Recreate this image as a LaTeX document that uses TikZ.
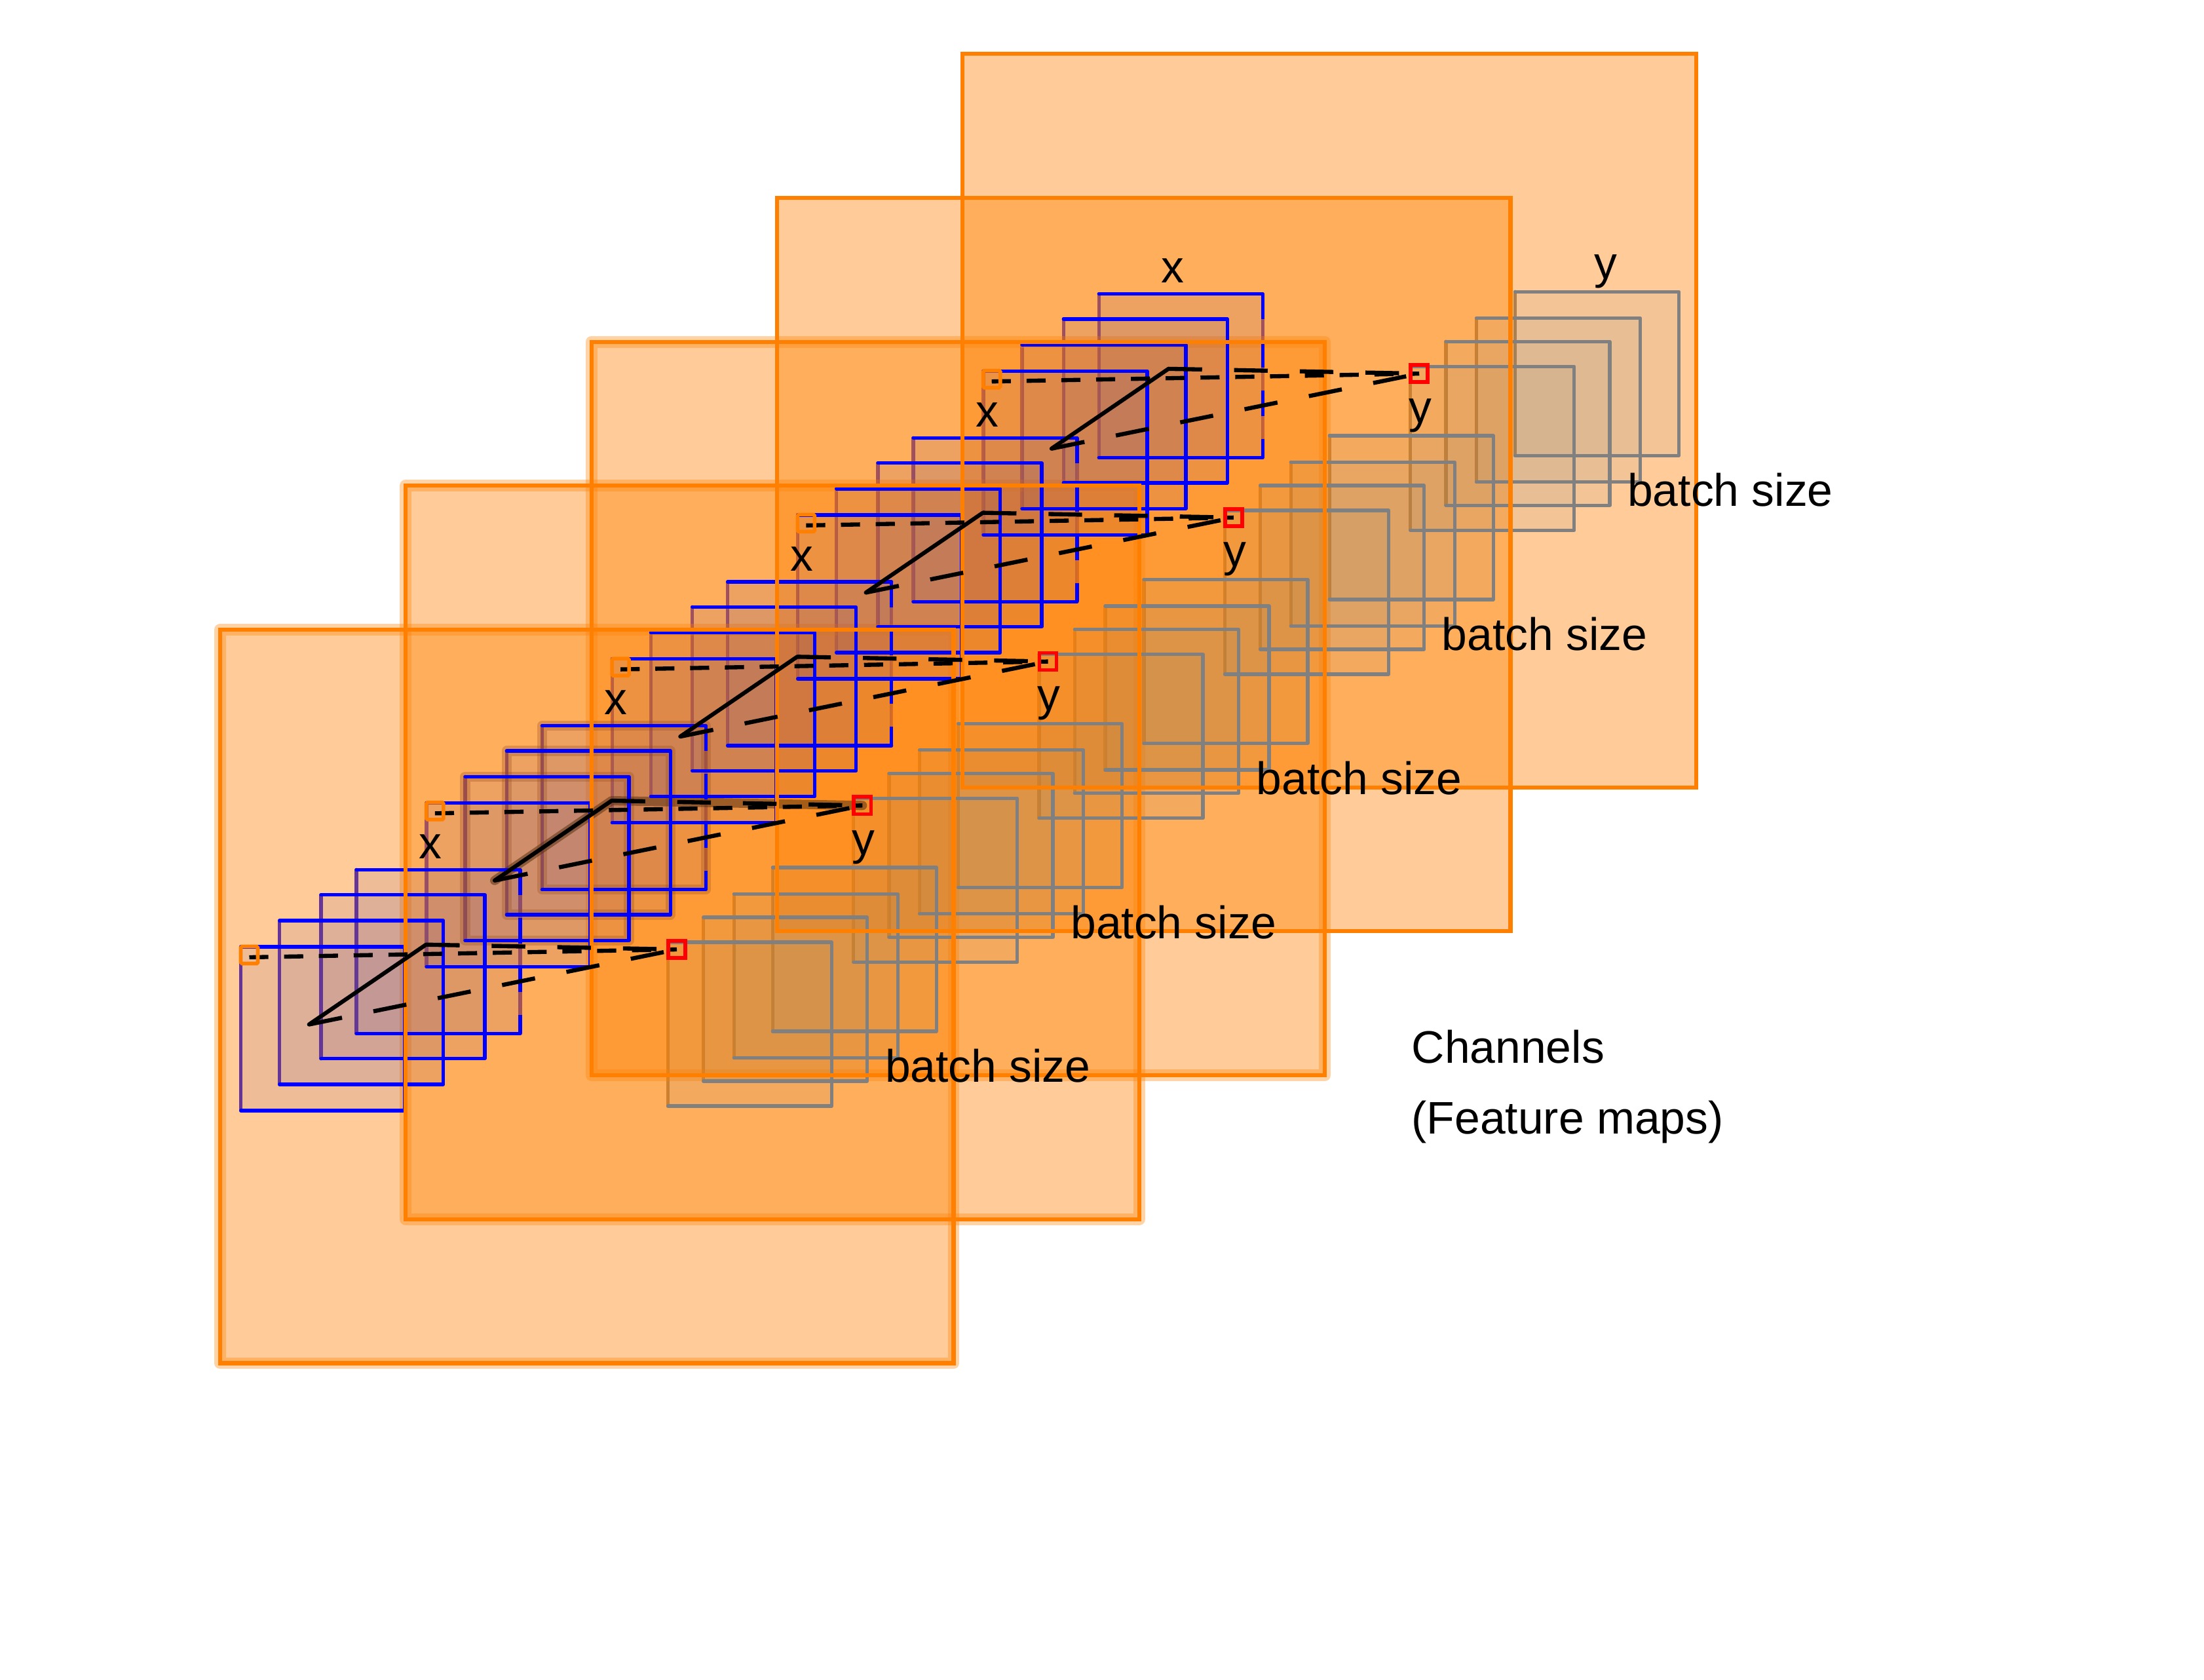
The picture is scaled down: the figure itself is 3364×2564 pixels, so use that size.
\documentclass[tikz,border=0pt]{standalone}
\usepackage{fontspec}
\setmainfont{Liberation Sans}
\definecolor{orng}{RGB}{255,128,0}
\definecolor{bl}{RGB}{0,0,255}
\definecolor{gr}{RGB}{128,128,128}
\definecolor{rd}{RGB}{255,0,0}
\definecolor{bfill}{RGB}{100,70,145}
\definecolor{halo}{RGB}{150,75,30}
\definecolor{halodark}{RGB}{90,50,20}
\tikzset{
  layershift/.style={shift={(336+283.3*#1,961-219.7*#1)}},
  orangefill/.style={fill=orng, fill opacity=0.4},
  orangeglow/.style={draw=orng, draw opacity=0.35, line width=5.1pt, line join=round},
  orangeborder/.style={draw=orng, line width=1.75pt},
  edgeblue/.style={draw=bl, line width=1.5pt, line cap=round, line join=round},
  edgegray/.style={draw=gr, line width=1.5pt, line cap=round, line join=round},
  bluefill/.style={fill=bfill, fill opacity=0.11},
  grayfill/.style={fill=gr, fill opacity=0.09},
  halobox/.style={draw=halo, draw opacity=0.3, line width=4.3pt, line join=round},
  haloline/.style={draw=halodark, draw opacity=0.55, line width=4pt, line cap=round, line join=round},
  kernelbox/.style={draw=orng, line width=1.6pt, rounded corners=0.5pt, minimum size=0.26cm, inner sep=0pt},
  outbox/.style={draw=rd, line width=1.6pt, minimum size=0.26cm, inner sep=0pt},
  blackline/.style={draw=black, line width=1.75pt, line cap=round},
  shortdash/.style={draw=black, line width=1.8pt, dash pattern=on 8.3pt off 6.8pt},
  longdash/.style={draw=black, line width=1.8pt, dash pattern=on 14.6pt off 13.9pt},
  lbl/.style={inner sep=0pt, font=\fontsize{19.8}{24}\selectfont},
}
\def\bluelist{31.7/484,90.7/444,154/404.7,208/366.3}
\def\graylist{683.5/477,737.7/439,784.3/403.4,843.3/363}
\begin{document}
\begin{tikzpicture}[x=0.01cm,y=-0.01cm]
\useasboundingbox (0,0) rectangle (3364,2564);
% hidden (under-fill) edges
\foreach \k in {0,...,4}{
  \begin{scope}[layershift=\k]
    \foreach \bx/\by in \bluelist { \draw[edgeblue] (\bx,\by) -- (\bx,\by+250); }
    \draw[edgeblue] (458,366.3) -- (458,616.3);
    \foreach \gx/\gy in \graylist { \draw[edgegray] (\gx,\gy) -- (\gx,\gy+250); }
  \end{scope}
}
% channel planes
\foreach \k in {0,...,4}{ \fill[orangefill,layershift=\k] (0,0) rectangle (1119.5,1119.5); }
\foreach \k in {0,1,2}{ \draw[orangeglow,layershift=\k] (0,0) rectangle (1119.5,1119.5); }
% stack fills
\foreach \k in {0,...,4}{
  \begin{scope}[layershift=\k]
    \foreach \bx/\by in \bluelist { \fill[bluefill] (\bx,\by) rectangle ++(250,250); }
    \foreach \gx/\gy in \graylist { \fill[grayfill] (\gx,\gy) rectangle ++(250,250); }
  \end{scope}
}
% highlighted halos (second layer)
\begin{scope}[layershift=1]
  \foreach \bx/\by in {90.7/444,154/404.7,208/366.3} { \draw[halobox] (\bx,\by) rectangle ++(250,250); }
  \draw[haloline] (135.7,602.5) -- (314.2,480.7) -- (697,488);
\end{scope}
% visible edges
\foreach \k in {0,...,4}{
  \begin{scope}[layershift=\k]
    \foreach \bx/\by in {31.7/484,90.7/444,154/404.7} { \draw[edgeblue] (\bx,\by) -- ++(250,0) -- ++(0,250) -- ++(-250,0); }
    \draw[edgeblue] (208,366.3) -- ++(250,0);
    \draw[edgeblue] (208,616.3) -- ++(250,0);
    \draw[edgeblue, line cap=butt, dash pattern=on 11pt off 10pt] (458,366.3) -- (458,616.3);
    \foreach \gx/\gy in \graylist { \draw[edgegray] (\gx,\gy) -- ++(250,0) -- ++(0,250) -- ++(-250,0); }
  \end{scope}
}
% plane borders
\foreach \k in {0,...,4}{ \draw[orangeborder,layershift=\k] (0,0) rectangle (1119.5,1119.5); }
% kernels, connectors and labels
\foreach \k in {0,...,4}{
  \begin{scope}[layershift=\k]
    \coordinate (pa\k) at (135.7,602.5);
    \coordinate (pb\k) at (314.2,480.7);
    \coordinate (ks\k) at (44.5,500);
    \coordinate (oc\k) at (697,488);
    \draw[shortdash] (ks\k) -- (oc\k);
    \draw[longdash] (pb\k) -- (oc\k);
    \draw[longdash] (pa\k) -- (oc\k);
    \draw[blackline] (pa\k) -- (pb\k);
    \node[kernelbox] (kern\k) at (44.5,496.5) {};
    \node[outbox] (out\k) at (oc\k) {};
    \node[lbl, anchor=base] (lx\k) at (321,349.5) {x};
    \node[lbl, anchor=base] (ly\k) at (982,343.2) {y};
    \node[lbl, anchor=base west] (lb\k) at (1014.3,690.7) {batch size};
  \end{scope}
}
\node[lbl, anchor=base west] (ch) at (2154,1622.7) {Channels};
\node[lbl, anchor=base west] (fm) at (2154,1730) {(Feature maps)};
\end{tikzpicture}
\end{document}
